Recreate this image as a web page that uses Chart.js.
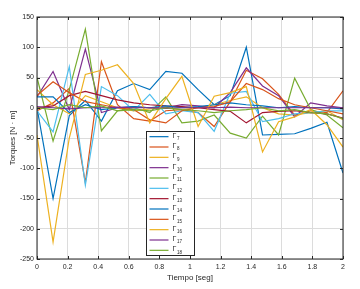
<!DOCTYPE html>
<html>
<head>
<meta charset="utf-8">
<script src="https://cdn.jsdelivr.net/npm/chart.js@4"></script>
<style>
  html,body{margin:0;padding:0;background:#fff;}
  #wrap{width:360px;height:289px;}
</style>
</head>
<body>
<div id="wrap"><canvas id="c" width="360" height="289"></canvas></div>
<script>
// tiempo [seg], 20 muestras
const tiempo=[0,0.105,0.211,0.316,0.421,0.526,0.632,0.737,0.842,0.947,1.053,1.158,1.263,1.368,1.474,1.579,1.684,1.789,1.895,2];
const nombres=['7','8','9','10','11','12','13','14','15','16','17','18'];
const colores=['#0072BD','#D95319','#EDB120','#7E2F8E','#77AC30','#4DBEEE','#A2142F','#0072BD','#D95319','#EDB120','#7E2F8E','#77AC30'];

const g7 =[0,-150,-13,12,-22,28,40,30,60,57,30,5,20,100,-45,-44,-43,-34,-24,-108];
const g8 =[-5,8,32,-124,76,5,-18,-22,-5,-3,-8,-31,10,62,48,22,-12,-5,-8,28];
const g9 =[30,5,-10,20,10,0,-5,-2,0,-3,0,5,12,18,0,-10,-12,-8,-5,-20];
const g10=[18,60,-3,97,-8,0,2,0,0,5,3,0,25,66,36,20,-15,8,3,0];
const g11=[50,-55,30,130,-38,-5,0,-8,18,-25,-22,-12,-42,-50,-14,-45,49,-3,-12,-33];
const g12=[-5,-40,68,-128,35,20,-5,22,-10,-5,-8,-39,24,27,-23,-18,-10,-8,-5,-5];
const g13=[0,3,20,27,20,13,8,5,3,2,0,-3,-6,-25,-8,-6,-5,-8,-10,-17];
const g14=[18,18,-8,5,-3,0,2,0,3,0,2,5,8,5,3,0,2,0,0,-2];
const g15=[20,43,25,10,5,0,-3,-20,-25,-5,0,2,10,40,30,15,5,0,-5,-10];
const g16=[-45,-222,-50,55,62,71,40,-25,15,52,-31,19,25,35,-73,-23,-15,-3,-28,-65];
const g17=[2,0,-2,0,0,1,0,0,-1,0,0,0,1,0,0,0,0,0,0,0];
const g18=[0,-3,5,0,3,-5,-3,-5,0,-3,-5,-8,-5,-3,0,-5,-3,-8,-10,-18];
const series=[g7,g8,g9,g10,g11,g12,g13,g14,g15,g16,g17,g18];

const yTicks=[-250,-200,-150,-100,-50,0,50,100,150];
const xTicks=[0,0.2,0.4,0.6,0.8,1,1.2,1.4,1.6,1.8,2];

const FONT='"Liberation Sans", Arial, sans-serif';
const INK='#262626';

const datasets=series.map((vals,i)=>({
  label:'Γ'+nombres[i],
  data:tiempo.map((t,k)=>({x:t,y:vals[k]})),
  borderColor:colores[i],backgroundColor:colores[i],
  borderWidth:1.2,pointRadius:0,tension:0,fill:false,
  order:series.length-i
}));

// marco, ticks interiores y leyenda dentro del eje
const frame={id:'frame',afterDatasetsDraw(chart){
  const {ctx,chartArea:a,scales:{x,y}}=chart;
  ctx.save();
  ctx.strokeStyle=INK;ctx.lineWidth=1;
  ctx.strokeRect(a.left,a.top,a.right-a.left,a.bottom-a.top);
  ctx.beginPath();
  xTicks.forEach(v=>{const px=Math.round(x.getPixelForValue(v))+0.5;
    ctx.moveTo(px,a.bottom);ctx.lineTo(px,a.bottom-3);
    ctx.moveTo(px,a.top);ctx.lineTo(px,a.top+3);});
  yTicks.forEach(v=>{const py=Math.round(y.getPixelForValue(v))+0.5;
    ctx.moveTo(a.left,py);ctx.lineTo(a.left+3,py);
    ctx.moveTo(a.right,py);ctx.lineTo(a.right-3,py);});
  ctx.stroke();

  // leyenda
  const bx=146.5,by=131.5,bw=48,bh=124,rowH=bh/12;
  ctx.fillStyle='#fff';ctx.fillRect(bx,by,bw,bh);
  ctx.strokeStyle=INK;ctx.lineWidth=1;ctx.strokeRect(bx,by,bw,bh);
  chart.data.datasets.forEach((ds,i)=>{
    const cy=by+rowH*(i+0.5);
    ctx.strokeStyle=ds.borderColor;ctx.lineWidth=1.2;
    ctx.beginPath();ctx.moveTo(bx+3,cy);ctx.lineTo(bx+22,cy);ctx.stroke();
    ctx.fillStyle=INK;ctx.textBaseline='middle';ctx.textAlign='left';
    ctx.font='7px '+FONT;ctx.fillText('Γ',bx+26,cy-1);
    ctx.font='4.5px '+FONT;ctx.fillText(ds.label.slice(1),bx+30.5,cy+2);
  });
  ctx.restore();
}};

new Chart(document.getElementById('c'),{
  type:'line',
  data:{datasets},
  plugins:[frame],
  options:{
    responsive:false,animation:false,
    layout:{padding:{left:0,top:17,right:17,bottom:0}},
    plugins:{legend:{display:false},tooltip:{enabled:false}},
    scales:{
      x:{type:'linear',min:0,max:2,
        afterFit:s=>{s.height=30;},
        afterBuildTicks:s=>{s.ticks=xTicks.map(v=>({value:v}));},
        grid:{color:'#dcdcdc',drawTicks:false},border:{display:false},
        ticks:{color:INK,font:{family:FONT,size:7},padding:4,maxRotation:0,
          callback:v=>String(Math.round(v*10)/10)},
        title:{display:true,text:'Tiempo [seg]',color:INK,font:{family:FONT,size:8},padding:{top:0,bottom:6}}},
      y:{min:-250,max:150,
        afterFit:s=>{s.width=37;},
        afterBuildTicks:s=>{s.ticks=yTicks.map(v=>({value:v}));},
        grid:{color:'#dcdcdc',drawTicks:false},border:{display:false},
        ticks:{color:INK,font:{family:FONT,size:7},padding:3},
        title:{display:true,text:'Torques [N · m]',color:INK,font:{family:FONT,size:8},padding:{top:8,bottom:0}}}
    }
  }
});
</script>
</body>
</html>
